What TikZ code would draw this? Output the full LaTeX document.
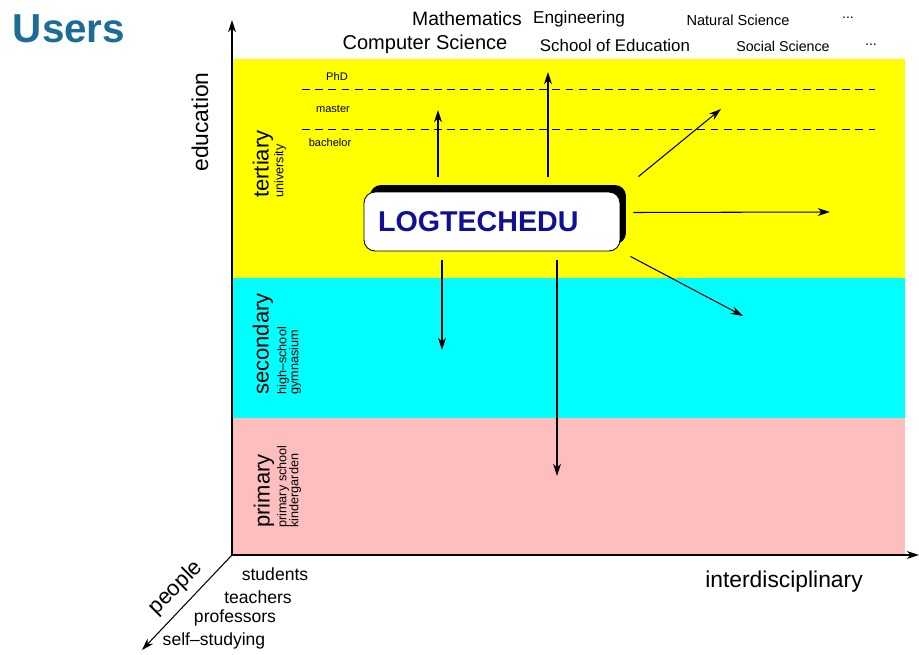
\documentclass[tikz,border=0pt]{standalone}
\usepackage{fontspec}
\setmainfont{Liberation Sans}
\usetikzlibrary{positioning,shapes,arrows,arrows.meta,shadows}

\definecolor{usersblue}{RGB}{28,108,150}
\definecolor{logoblue}{RGB}{16,16,150}
\definecolor{bandyellow}{RGB}{255,255,0}
\definecolor{bandcyan}{RGB}{0,255,255}
\definecolor{bandpink}{RGB}{255,190,190}
\newcommand{\fsz}[1]{\fontsize{#1}{#1}\selectfont}

\begin{document}
\begin{tikzpicture}[x=0.02cm,y=-0.02cm,inner sep=0pt,
  arr/.style={-{Stealth[length=7pt,width=4.5pt]},line width=0.6pt},
  band/.style={rotate=90,anchor=west,font=\fsz{12.5pt}},
  sub/.style={rotate=90,anchor=west,font=\fsz{7.2pt}},
  level/.style={font=\fsz{6.3pt}},
  field/.style={font=\fsz{#1}},
  who/.style={font=\fsz{10pt}}]
\useasboundingbox (0,0) rectangle (919,655);

% bands
\fill[bandyellow] (232,59) rectangle (905,278);
\fill[bandcyan] (232,278) rectangle (905,418);
\fill[bandpink] (232,418) rectangle (905,555);
\draw[dashed,dash pattern=on 4.5pt off 3pt,line width=0.5pt] (302,89) -- (875,89);
\draw[dashed,dash pattern=on 4.5pt off 3pt,line width=0.5pt] (302,129) -- (875,129);

% axes
\coordinate (o) at (232,555);
\coordinate (up) at (232,20);
\coordinate (right) at (919,555);
\coordinate (front) at (142,650);
\draw[arr] (o) -- (up);
\draw[arr] (o) -- (right);
\draw[arr] (o) -- (front);

\node[font=\fsz{23pt}\bfseries,text=usersblue] (users) at (69,29) {Users};

\node[rotate=90,font=\fsz{13pt}] (edu) at (200,122) {education};
\node[font=\fsz{13pt}] (inter) at (784,582) {interdisciplinary};
\node[rotate=45,font=\fsz{12.5pt}] (people) at (176,588) {people};

% levels
\node[band] (tert) at (263,198) {tertiary};
\node[sub] (univ) at (280,198) {university};
\node[band] (sec) at (263,395) {secondary};
\node[sub] (hs) at (283,395) {high--school};
\node[sub] (gym) at (295,395) {gymnasium};
\node[band] (prim) at (264,528) {primary};
\node[sub] (ps) at (283,528) {primary school};
\node[sub] (kg) at (295,528) {kindergarden};

\node[level] (phd) at (337,76) {PhD};
\node[level] (master) at (333,109) {master};
\node[level] (bach) at (330,143) {bachelor};

% fields
\node[field=11pt] (math) at (467,19) {Mathematics};
\node[field=9.8pt] (eng) at (579,19) {Engineering};
\node[field=8.3pt] (nat) at (738,20) {Natural Science};
\node[field=8pt] (dots1) at (848,18) {...};
\node[field=11.4pt] (cs) at (425,44) {Computer Science};
\node[field=9.6pt] (soe) at (615,45) {School of Education};
\node[field=8.1pt] (soc) at (783,46) {Social Science};
\node[field=8pt] (dots2) at (871,45) {...};

% people
\node[who] (stud) at (275,574) {students};
\node[who] (teach) at (258,597) {teachers};
\node[who] (prof) at (235,618) {professors};
\node[who] (self) at (214,641) {self--studying};

% the project
\node[draw,fill=white,rounded corners=0.22cm,line width=0.5pt,
  minimum height=1.18cm,text width=4.56cm,inner xsep=0.28cm,align=left,
  font=\fsz{16.3pt}\bfseries,text=logoblue,
  drop shadow={shadow xshift=0.12cm,shadow yshift=0.14cm,opacity=1,fill=black}]
  (logtech) at (492,221.5) {LOGTECHEDU};

\coordinate (tomaster) at (438,110);
\coordinate (tofield) at (548,72);
\coordinate (toupright) at (721,109);
\coordinate (toright) at (830,212);
\coordinate (todownright) at (743,316);
\coordinate (tosec) at (442,350);
\coordinate (toprim) at (557,476);
\draw[arr] ([shift={(-54,-15)}]logtech.north) -- (tomaster);
\draw[arr] ([shift={(56,-15)}]logtech.north) -- (tofield);
\draw[arr] ([shift={(18,-15)}]logtech.north east) -- (toupright);
\draw[arr] ([shift={(13,-9)}]logtech.east) -- (toright);
\draw[arr] ([shift={(10,5)}]logtech.south east) -- (todownright);
\draw[arr] ([shift={(-50,9)}]logtech.south) -- (tosec);
\draw[arr] ([shift={(65,9)}]logtech.south) -- (toprim);
\end{tikzpicture}
\end{document}
